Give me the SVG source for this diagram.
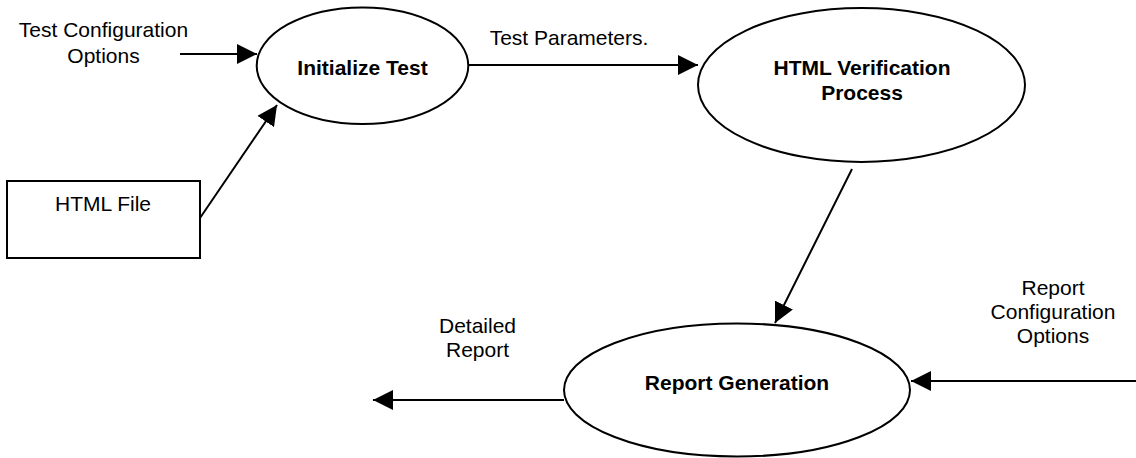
<svg xmlns="http://www.w3.org/2000/svg" width="1136" height="458" viewBox="0 0 1136 458">
  <style>
    .bg { fill: #ffffff; }
    .proc { fill: #ffffff; stroke: #000000; stroke-width: 2; }
    .store { fill: #ffffff; stroke: #000000; stroke-width: 2; }
    .flow { fill: none; stroke: #000000; stroke-width: 2; marker-end: url(#arrow); }
    text { font-family: "Liberation Sans", Arial, sans-serif; font-size: 21px; fill: #000000; text-anchor: middle; }
    .bold { font-weight: bold; }
  </style>
  <defs>
    <marker id="arrow" markerUnits="userSpaceOnUse" markerWidth="20" markerHeight="20" refX="20" refY="10" orient="auto">
      <path d="M0,0 L20,10 L0,20 Z" fill="#000000"/>
    </marker>
  </defs>

  <rect class="bg" x="0" y="0" width="1136" height="458"/>

  <!-- data flows -->
  <g id="connectors">
    <line class="flow" x1="180" y1="54" x2="257" y2="54"/>
    <line class="flow" x1="200" y1="218" x2="277" y2="105"/>
    <line class="flow" x1="468" y1="65" x2="698" y2="65"/>
    <line class="flow" x1="852" y1="169" x2="775" y2="323"/>
    <line class="flow" x1="1136" y1="381" x2="911" y2="381"/>
    <line class="flow" x1="564" y1="400" x2="373" y2="400"/>
  </g>

  <!-- flow labels -->
  <g id="flow-labels">
    <text x="103.5" y="37">Test Configuration</text>
    <text x="103.5" y="63">Options</text>
    <text x="569" y="45">Test Parameters.</text>
    <text x="477.5" y="333">Detailed</text>
    <text x="477.5" y="357">Report</text>
    <text x="1053" y="295">Report</text>
    <text x="1053" y="319">Configuration</text>
    <text x="1053" y="343">Options</text>
  </g>

  <g id="html-file">
    <rect class="store" x="7" y="181" width="193" height="77"/>
    <text x="103" y="211">HTML File</text>
  </g>

  <g id="initialize-test">
    <ellipse class="proc" cx="362.5" cy="65.7" rx="105.8" ry="58.3"/>
    <text class="bold" x="362.5" y="75">Initialize Test</text>
  </g>

  <g id="html-verification">
    <ellipse class="proc" cx="861.5" cy="85" rx="163.5" ry="77"/>
    <text class="bold" x="862" y="75">HTML Verification</text>
    <text class="bold" x="862" y="100">Process</text>
  </g>

  <g id="report-generation">
    <ellipse class="proc" cx="737" cy="390" rx="173" ry="66.5"/>
    <text class="bold" x="737" y="390">Report Generation</text>
  </g>
</svg>
